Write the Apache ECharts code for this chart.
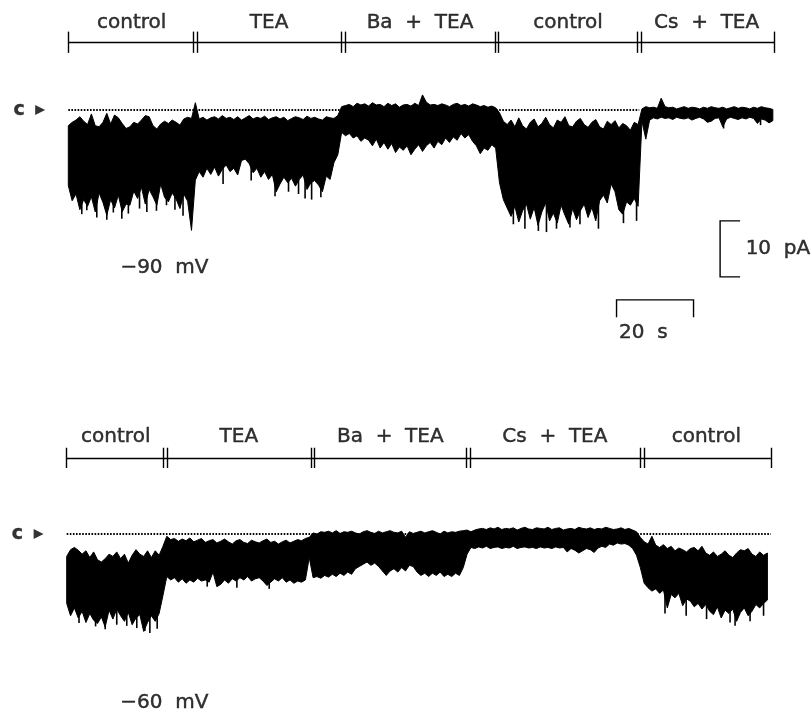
<!DOCTYPE html>
<html>
<head>
<meta charset="utf-8">
<script src="https://cdn.jsdelivr.net/npm/echarts@6/dist/echarts.min.js"></script>
<style>
  html, body { margin: 0; background: #fff; }
  #chart { width: 812px; height: 712px; }
</style>
</head>
<body>
<div id="chart"></div>
<script>
// sampled envelope of the current trace, one sample per second (pA, 0 = closed level "c")
// -90 mV trace
var topUpper = [
  // control
  -2.8,-2.2,-1.8,-1.2,-2.0,-2.6,-0.7,-2.8,-3.0,-2.2,
  -0.6,-2.5,-0.9,-1.4,-2.4,-3.3,-3.0,-2.2,-2.5,-1.8,
  -1.0,-1.2,-2.8,-3.4,-2.5,-2.0,-2.4,-1.8,-2.2,-2.7,
  -1.6,-1.3,-1.5, 1.3,
  // TEA
  -1.6,-1.3,-1.8,-1.4,-1.2,-1.6,-1.0,-1.5,-1.3,-1.7,
  -1.2,-1.8,-1.4,-1.0,-1.6,-1.3,-1.5,-1.1,-1.7,-1.4,
  -1.2,-1.6,-1.3,-1.9,-1.5,-1.2,-1.4,-1.7,-1.1,-1.5,
  -1.3,-1.6,-1.8,-1.2,-1.4,-1.5,-1.0, 0.6,
  // Ba + TEA
  0.8,1.0,0.6,1.2,0.9,1.1,0.7,1.3,0.9,1.0,
  0.6,1.2,0.8,1.1,0.5,0.9,1.0,0.7,1.2,0.8,
  2.7,1.4,0.9,1.0,0.8,1.1,0.9,0.6,1.0,1.2,
  0.8,1.0,0.7,1.1,0.9,0.6,0.8,0.5,0.7,0.4,
  // control
  -0.5,-2.0,-2.6,-1.8,-3.0,-1.4,-2.8,-3.4,-2.2,-1.6,
  -3.0,-2.4,-1.3,-2.6,-3.2,-1.8,-2.2,-1.2,-2.8,-3.0,
  -2.0,-1.5,-2.6,-3.1,-2.2,-1.7,-3.0,-3.4,-2.0,-2.6,
  -1.9,-3.2,-2.4,-2.8,-3.6,-2.2,-2.6,
  // Cs + TEA
  0.2,0.6,0.4,0.5,0.3,2.1,0.6,0.4,0.5,0.2,
  0.4,0.6,0.3,0.5,0.4,0.2,0.5,0.3,0.6,0.4,
  0.3,0.5,0.2,0.4,0.6,0.3,0.5,0.4,0.2,0.5,
  0.3,0.6,0.4,0.3,0.1
];
var topLower = [
  -13.5,-16.2,-15.0,-17.8,-16.0,-17.2,-15.5,-18.2,-14.8,-16.5,
  -18.8,-16.0,-17.5,-15.2,-18.2,-16.8,-17.0,-14.5,-15.8,-13.8,
  -16.8,-14.2,-15.5,-17.0,-13.2,-15.6,-16.4,-14.8,-15.9,-17.6,
  -15.0,-16.3,-21.5,-12.5,
  -11.0,-12.0,-10.4,-11.5,-10.2,-11.8,-10.6,-9.8,-11.0,-10.4,
  -11.6,-9.0,-8.8,-9.6,-11.2,-10.4,-12.0,-11.0,-12.4,-11.5,
  -14.6,-13.2,-12.0,-13.0,-12.2,-13.6,-12.4,-11.6,-14.2,-13.0,
  -12.6,-13.4,-14.6,-11.8,-12.4,-9.4,-8.0,-4.0,
  -4.6,-4.2,-5.0,-4.6,-5.6,-5.0,-5.4,-6.4,-5.2,-6.8,
  -5.8,-7.0,-6.0,-7.6,-6.6,-7.2,-6.4,-8.0,-7.0,-6.2,
  -7.4,-6.4,-5.8,-6.8,-5.6,-6.2,-5.0,-5.8,-4.8,-5.4,
  -4.2,-5.0,-4.4,-5.6,-6.4,-7.8,-6.8,-7.2,-6.2,-6.8,
  -13.0,-16.0,-17.5,-19.0,-17.2,-20.0,-18.0,-16.8,-19.5,-17.4,
  -20.6,-18.2,-16.6,-19.8,-18.4,-20.2,-17.0,-18.8,-20.4,-17.6,
  -19.6,-18.0,-16.8,-19.2,-17.4,-19.8,-16.2,-15.2,-16.6,-13.2,
  -14.6,-17.8,-18.6,-16.4,-17.0,-15.8,-17.2,
  -2.0,-5.2,-1.8,-1.4,-1.6,-1.3,-1.5,-1.4,-1.7,-1.3,
  -1.5,-1.6,-1.4,-1.8,-1.5,-1.3,-1.6,-2.2,-2.0,-1.5,
  -1.4,-3.0,-1.6,-1.3,-1.5,-1.7,-1.4,-1.6,-1.3,-1.5,
  -2.4,-1.6,-1.8,-2.3,-1.9
];
// narrow openings reaching past the envelope: [time s, pA]
var topSpikes = [
  [3.5,-18.6],[4.8,-17.9],[7.4,-19.2],[10.0,-19.6],[11.7,-18.3],[13.9,-19.4],
  [15.6,-18.5],[18.5,-17.6],[20.4,-18.2],[22.9,-18.0],[25.5,-17.0],[27.7,-17.8],[29.8,-18.9],
  [40.2,-13.2],[47.5,-12.6],[53.7,-15.4],[57.2,-14.6],[59.8,-15.0],[61.5,-15.8],[63.2,-16.0],[65.6,-15.6],
  [115.6,-20.4],[118.6,-21.2],[122.1,-21.6],[124.2,-21.8],[126.8,-21.2],[130.3,-21.0],
  [132.9,-20.4],[137.7,-21.2],[144.2,-20.2],[147.6,-19.8],
  [170.2,-3.3],[179.8,-2.7]
];
// -60 mV trace
var botUpper = [
  // control
  -4.0,-2.8,-2.4,-2.9,-3.6,-3.0,-4.2,-3.2,-4.6,-5.0,
  -4.4,-3.6,-4.0,-3.2,-4.4,-3.6,-5.2,-3.8,-2.8,-3.6,
  -4.0,-3.0,-4.2,-3.0,-3.8,-2.2,
  // TEA
  -0.4,-1.0,-0.8,-1.3,-0.9,-1.2,-0.7,-1.4,-1.1,-0.8,
  -1.5,-1.2,-1.0,-1.6,-1.3,-0.9,-1.4,-1.8,-1.2,-1.0,
  -1.5,-1.7,-1.1,-1.4,-1.6,-1.2,-0.9,-1.5,-1.3,-1.8,
  -1.4,-1.1,-1.6,-1.3,-1.0,-1.2,-0.8,-0.6,
  // Ba + TEA
  0.2,0.0,0.4,0.3,0.5,0.2,0.6,0.1,0.4,0.3,
  0.5,0.2,0.0,0.4,0.6,0.3,0.1,0.5,0.2,0.4,
  0.6,0.3,0.2,0.5,-0.6,0.4,0.1,0.3,0.5,0.2,
  0.4,0.6,0.3,0.0,0.5,0.2,0.4,0.3,0.5,0.6,
  0.7,
  // Cs + TEA
  0.4,0.7,0.9,1.0,0.8,1.1,0.9,1.2,0.8,1.0,
  0.9,1.1,0.7,1.0,1.2,0.9,0.8,1.1,1.0,0.9,
  1.2,0.8,1.0,1.1,0.7,0.9,1.0,0.8,1.2,1.0,
  0.9,1.1,0.8,1.0,0.9,1.2,1.0,0.8,0.9,1.1,
  0.8,1.0,0.7,0.4,-0.6,
  // control
  -1.4,-1.8,-0.4,-2.0,-2.4,-1.9,-2.6,-2.2,-3.0,-2.5,
  -2.8,-3.2,-2.6,-2.4,-3.0,-2.2,-3.4,-3.8,-3.2,-4.0,
  -3.6,-3.0,-3.8,-4.2,-3.4,-2.8,-3.0,-2.6,-3.6,-4.0,
  -3.2,-3.8,-3.4
];
var botLower = [
  -12.4,-14.6,-13.2,-15.0,-13.8,-15.8,-14.2,-15.4,-16.0,-14.8,
  -16.6,-13.6,-15.2,-13.4,-14.6,-15.6,-14.0,-16.2,-15.0,-14.4,
  -17.4,-15.8,-14.6,-15.6,-14.2,-11.0,
  -7.6,-8.2,-7.8,-8.6,-8.0,-8.8,-8.2,-8.6,-7.9,-8.4,
  -8.2,-8.6,-6.8,-9.4,-9.0,-8.2,-8.8,-8.0,-8.4,-7.8,
  -8.2,-7.6,-8.4,-8.0,-7.8,-8.4,-9.2,-8.6,-8.0,-8.4,
  -7.8,-8.6,-8.2,-8.8,-8.4,-8.6,-8.2,-4.2,
  -7.8,-7.6,-7.9,-7.4,-7.7,-7.2,-7.6,-7.0,-7.4,-6.8,
  -7.2,-6.2,-5.8,-5.4,-5.0,-5.6,-5.2,-5.8,-6.6,-7.4,
  -6.6,-6.2,-6.8,-6.0,-6.6,-5.6,-5.8,-6.8,-7.4,-7.0,
  -7.6,-7.0,-7.4,-6.8,-7.6,-7.2,-7.6,-7.0,-7.4,-6.0,
  -3.6,
  -2.4,-2.6,-2.3,-2.5,-2.2,-2.6,-2.4,-2.3,-2.6,-2.4,
  -2.5,-2.2,-2.6,-2.4,-2.3,-2.5,-2.4,-2.6,-2.3,-2.5,
  -2.4,-2.6,-2.3,-2.5,-2.4,-3.2,-2.6,-2.9,-3.4,-3.0,
  -2.6,-2.8,-3.3,-2.5,-2.2,-2.4,-1.8,-2.0,-1.6,-1.8,
  -1.7,-2.0,-2.6,-3.8,-6.0,
  -8.8,-9.6,-10.2,-9.8,-10.6,-10.0,-13.2,-10.8,-11.4,-10.6,
  -12.8,-11.6,-12.0,-13.0,-12.4,-13.4,-12.6,-13.8,-14.4,-13.0,
  -15.0,-13.6,-14.2,-13.4,-15.6,-14.0,-13.2,-14.6,-13.8,-12.6,
  -13.2,-12.4,-11.8
];
var botSpikes = [
  [3.2,-15.9],[7.5,-16.5],[10.0,-17.0],[13.0,-16.2],[15.6,-16.4],[18.2,-16.8],
  [20.3,-17.3],[21.6,-17.7],[23.5,-16.9],
  [36.5,-9.4],[44.2,-9.6],[52.6,-9.8],
  [155.4,-14.2],[160.9,-14.6],[166.2,-15.2],[172.3,-15.8],[173.6,-16.4],[177.5,-15.6],[181.0,-14.6]
];

// solution changes (s) and their labels
var topBounds = [0, 32.9, 71.4, 111.3, 148.3, 183.3];
var topNames = ['control', 'TEA', 'Ba  +  TEA', 'control', 'Cs  +  TEA'];
var botBounds = [0, 25.5, 63.9, 104.2, 149.4, 182.9];
var botNames = ['control', 'TEA', 'Ba  +  TEA', 'Cs  +  TEA', 'control'];
// extent of the dotted closed level
var topClosedEnd = 148.3;
var botClosedEnd = 182.9;

// page geometry: px per unit, and where t=0 / 0 pA sit on the page
var PX_S = 3.85, PX_PA = 5.6;
var panels = [
  { x0: 68.3, y0: 110, xmin: -17.5, xmax: 193, ymin: -42, ymax: 19.5 },
  { x0: 66.7, y0: 534, xmin: -17, xmax: 193, ymin: -31.5, ymax: 20 }
];

var FONT = 'DejaVu Sans';
var INK = '#000';
var TEXT = { color: INK, fontFamily: FONT, fontSize: 20, textBorderColor: '#000', textBorderWidth: 0.45 };

var grids = [], xAxes = [], yAxes = [];
panels.forEach(function (p, i) {
  grids.push({
    left: p.x0 + p.xmin * PX_S,
    top: p.y0 - p.ymax * PX_PA,
    width: (p.xmax - p.xmin) * PX_S,
    height: (p.ymax - p.ymin) * PX_PA
  });
  xAxes.push({ type: 'value', gridIndex: i, min: p.xmin, max: p.xmax, show: false });
  yAxes.push({ type: 'value', gridIndex: i, min: p.ymin, max: p.ymax, show: false });
});

// the trace: one filled outline, upper envelope forward then lower envelope back
function traceSeries(gi, upper, lower) {
  return {
    type: 'custom', xAxisIndex: gi, yAxisIndex: gi, z: 4, silent: true,
    data: upper.map(function (v, i) { return [i, v, lower[i]]; }),
    renderItem: function (params, api) {
      if (params.dataIndex !== 0) return null;
      var pts = [];
      for (var i = 0; i < upper.length; i++) pts.push(api.coord([i, upper[i]]));
      for (var j = lower.length - 1; j >= 0; j--) pts.push(api.coord([j, lower[j]]));
      return {
        type: 'polygon',
        shape: { points: pts },
        style: { fill: '#000', stroke: '#000', lineWidth: 1, lineJoin: 'miter' }
      };
    }
  };
}

// single openings: thin stroke from inside the band down to the spike value
function spikeSeries(gi, spikes, lower) {
  return {
    type: 'custom', xAxisIndex: gi, yAxisIndex: gi, z: 4, silent: true,
    data: spikes,
    renderItem: function (params, api) {
      var t = api.value(0), v = api.value(1);
      var from = lower[Math.round(t)] + 2;
      var a = api.coord([t, from]), b = api.coord([t, v]);
      return {
        type: 'line',
        shape: { x1: a[0], y1: a[1], x2: b[0], y2: b[1] },
        style: { stroke: '#000', lineWidth: 1.6 }
      };
    }
  };
}

function bracketSegs(b, yl, h) {
  var last = b[b.length - 1];
  var segs = [
    { coords: [[b[0], yl], [last, yl]] },
    { coords: [[b[0], yl - h], [b[0], yl + h]] },
    { coords: [[last, yl - h], [last, yl + h]] }
  ];
  for (var i = 1; i < b.length - 1; i++) {
    segs.push({ coords: [[b[i] - 0.5, yl - h], [b[i] - 0.5, yl + h]] });
    segs.push({ coords: [[b[i] + 0.5, yl - h], [b[i] + 0.5, yl + h]] });
  }
  return segs;
}

function labelSeries(gi, b, names, yl) {
  return {
    type: 'scatter', xAxisIndex: gi, yAxisIndex: gi, symbolSize: 1,
    itemStyle: { color: 'rgba(0,0,0,0)' }, silent: true,
    data: names.map(function (n, i) { return { name: n, value: [(b[i] + b[i + 1]) / 2, yl] }; }),
    label: Object.assign({ show: true, position: 'inside', formatter: '{b}' }, TEXT)
  };
}

function textSeries(gi, items, extra) {
  return {
    type: 'scatter', xAxisIndex: gi, yAxisIndex: gi, symbolSize: 1,
    itemStyle: { color: 'rgba(0,0,0,0)' }, silent: true,
    data: items,
    label: Object.assign({ show: true, position: 'right', distance: 0, formatter: '{b}' }, TEXT, extra || {})
  };
}

var series = [];
[[0, topBounds, topNames, topClosedEnd, 15.5, 12.1, 1.9],
 [1, botBounds, botNames, botClosedEnd, 17.3, 13.6, 1.8]].forEach(function (c) {
  var gi = c[0];
  series.push({
    type: 'line', xAxisIndex: gi, yAxisIndex: gi, symbol: 'none', z: 2,
    data: [[0, 0], [c[3], 0]],
    lineStyle: { color: INK, width: 1.8, type: [1.6, 1.5] }
  });
  series.push({
    type: 'lines', coordinateSystem: 'cartesian2d', xAxisIndex: gi, yAxisIndex: gi,
    data: bracketSegs(c[1], c[5], c[6]), silent: true,
    lineStyle: { color: INK, width: 1.4, opacity: 1 }
  });
  series.push(labelSeries(gi, c[1], c[2], c[4]));
  // closed-level marker
  series.push(textSeries(gi, [{ name: 'c', value: [-12.8, 0] }],
    { position: 'inside', fontWeight: 'bold', fontSize: 19, textBorderWidth: 0.4 }));
  series.push({
    type: 'scatter', xAxisIndex: gi, yAxisIndex: gi, symbol: 'triangle',
    symbolSize: [10, 10], symbolRotate: -90, itemStyle: { color: INK },
    data: [[-7.3, 0]], silent: true
  });
});

series.push(traceSeries(0, topUpper, topLower));
series.push(traceSeries(1, botUpper, botLower));
series.push(spikeSeries(0, topSpikes, topLower));
series.push(spikeSeries(1, botSpikes, botLower));

// scale bars (10 pA, 20 s) on the upper panel
series.push({
  type: 'lines', coordinateSystem: 'cartesian2d', xAxisIndex: 0, yAxisIndex: 0,
  polyline: true, silent: true,
  data: [
    { coords: [[174.5, -19.8], [169.3, -19.8], [169.3, -29.8], [174.5, -29.8]] },
    { coords: [[142.4, -37], [142.4, -33.9], [162.4, -33.9], [162.4, -37]] }
  ],
  lineStyle: { color: INK, width: 1.4, opacity: 1 }
});
series.push(textSeries(0, [
  { name: '10  pA', value: [175.8, -24.7] },
  { name: '20  s', value: [142.9, -39.8] },
  { name: '\u221290  mV', value: [13.4, -28.2] }
]));
series.push(textSeries(1, [
  { name: '\u221260  mV', value: [13.8, -30.2] }
]));

var chart = echarts.init(document.getElementById('chart'), null, { renderer: 'canvas' });
chart.setOption({
  animation: false,
  backgroundColor: '#fff',
  grid: grids,
  xAxis: xAxes,
  yAxis: yAxes,
  series: series
});
</script>
</body>
</html>
